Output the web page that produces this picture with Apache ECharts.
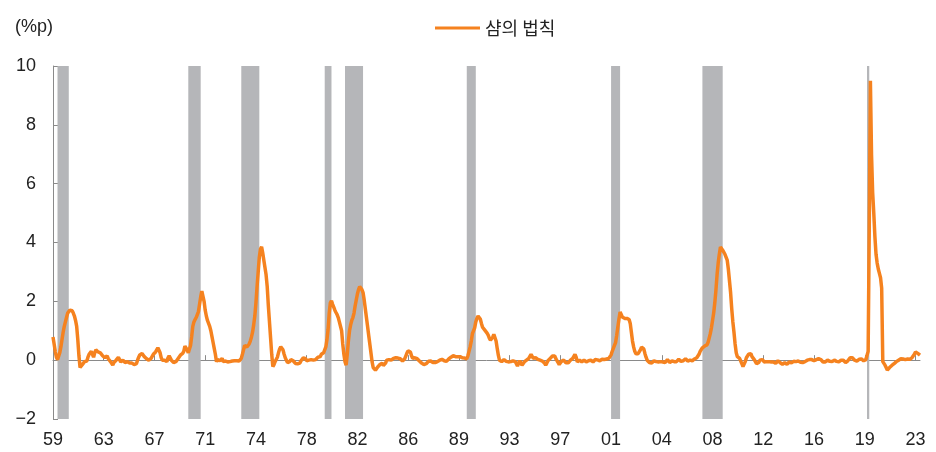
<!doctype html>
<html lang="ko">
<head>
<meta charset="UTF-8">
<script src="https://cdn.jsdelivr.net/npm/echarts@6/dist/echarts.min.js"></script>
<title>샴의 법칙</title>
<style>
  html, body { margin: 0; padding: 0; background: #fff; }
</style>
</head>
<body>
<div id="main" style="width: 936px; height: 452px"></div>
<script type="text/javascript">
// 월별 데이터, 1959년 12월부터
var startYear = 1959, startMonth = 12;
var seriesName = '샴의 법칙';
var tickLabels = ['59','63','67','71','74','78','82','86','89','93','97','01','04','08','12','16','19','23'];
var tickEvery = 45; // 라벨 간격(개월)

// 경기침체 구간 (음영)
var recessions = [
    ['1960-04','1961-02'], ['1969-12','1970-11'], ['1973-11','1975-03'],
    ['1980-01','1980-07'], ['1981-07','1982-11'], ['1990-07','1991-03'],
    ['2001-03','2001-11'], ['2007-12','2009-06'], ['2020-02','2020-04']
];

// 샴의 법칙 (%p)
var sahm = [
    0.79, // 1959.12
    0.55,0.3,0.1,0.02,0.05,0.25,0.45,0.7,0.95,1.15,1.3,1.45,          // 1960
    1.6,1.65,1.7,1.72,1.68,1.6,1.5,1.35,1.15,0.7,0.15,-0.25,          // 1961
    -0.25,-0.15,-0.1,-0.05,-0.08,-0.03,0.1,0.2,0.25,0.3,0.2,0.1,      // 1962
    0.25,0.35,0.33,0.28,0.3,0.25,0.2,0.15,0.1,0.08,0.12,0.15,         // 1963
    0.05,0.0,-0.05,-0.1,-0.17,-0.08,-0.12,0.0,0.05,0.1,0.02,-0.06,    // 1964
    -0.02,0.0,-0.05,-0.08,-0.1,-0.05,-0.08,-0.1,-0.07,-0.1,-0.12,-0.15, // 1965
    -0.17,-0.12,0.0,0.1,0.18,0.22,0.23,0.17,0.12,0.08,0.05,0.02,      // 1966
    0.0,0.02,0.06,0.12,0.2,0.23,0.28,0.35,0.42,0.45,0.25,0.08,        // 1967
    0.0,-0.02,0.0,-0.03,-0.05,0.08,0.15,0.1,0.0,-0.05,-0.08,-0.1,     // 1968
    -0.05,0.0,0.06,0.12,0.17,0.2,0.23,0.3,0.48,0.45,0.35,0.25,        // 1969
    0.3,0.5,0.8,1.15,1.3,1.38,1.45,1.55,1.65,1.9,2.15,2.35,           // 1970
    2.3,2.0,1.7,1.5,1.35,1.25,1.15,1.0,0.8,0.6,0.4,0.2,               // 1971
    -0.05,0.02,0.05,-0.02,0.03,0.06,-0.05,-0.11,-0.03,0.02,-0.06,-0.1, // 1972
    -0.05,0.0,-0.03,0.02,-0.02,-0.05,-0.02,0.02,-0.03,0.0,0.06,0.2,   // 1973
    0.35,0.5,0.52,0.45,0.48,0.55,0.65,0.78,0.95,1.2,1.5,1.95,         // 1974
    2.5,3.0,3.5,3.78,3.85,3.65,3.4,3.15,2.9,2.5,1.85,1.3,             // 1975
    0.75,0.2,-0.22,-0.15,-0.05,-0.05,0.1,0.25,0.38,0.45,0.5,0.35,     // 1976
    0.2,0.08,0.0,-0.08,-0.11,-0.05,0.02,0.06,-0.02,-0.08,-0.11,-0.08, // 1977
    -0.12,-0.17,-0.1,-0.02,0.02,0.08,0.11,0.05,-0.02,-0.05,0.0,-0.03, // 1978
    0.02,-0.02,0.0,0.04,0.02,0.06,0.1,0.08,0.12,0.2,0.18,0.25,        // 1979
    0.3,0.45,0.7,1.05,1.6,1.95,2.02,1.9,1.8,1.7,1.62,1.55,            // 1980
    1.45,1.3,1.3,1.0,0.55,0.2,-0.05,-0.17,0.2,0.65,1.0,1.2,           // 1981
    1.35,1.45,1.6,1.85,2.05,2.25,2.4,2.5,2.48,2.4,2.3,2.05,           // 1982
    1.75,1.45,1.15,0.85,0.55,0.25,-0.05,-0.25,-0.3,-0.34,-0.3,-0.23,  // 1983
    -0.2,-0.15,-0.1,-0.1,-0.18,-0.22,-0.1,0.0,0.06,0.02,-0.02,0.0,    // 1984
    0.03,0.06,0.1,0.08,0.1,0.07,0.05,0.05,0.0,-0.03,-0.04,0.05,       // 1985
    0.15,0.25,0.32,0.34,0.28,0.15,0.06,0.04,0.08,0.1,0.05,0.0,        // 1986
    -0.03,-0.06,-0.1,-0.12,-0.15,-0.17,-0.12,-0.08,-0.04,0.0,-0.03,-0.06, // 1987
    -0.08,-0.1,-0.08,-0.1,-0.05,-0.02,0.0,0.03,0.03,0.0,-0.02,-0.04,  // 1988
    -0.04,0.0,0.04,0.08,0.1,0.12,0.15,0.17,0.12,0.17,0.12,0.1,        // 1989
    0.12,0.1,0.08,0.06,0.07,0.06,0.05,0.15,0.3,0.45,0.65,0.9,         // 1990
    0.9,1.1,1.3,1.42,1.5,1.53,1.4,1.25,1.12,1.06,1.02,1.0,            // 1991
    0.92,0.85,0.75,0.68,0.65,0.78,0.88,0.85,0.65,0.4,0.17,0.0,        // 1992
    -0.03,-0.05,0.0,0.02,0.0,-0.04,-0.09,-0.06,-0.02,-0.05,-0.06,-0.02, // 1993
    0.0,-0.05,-0.12,-0.2,-0.1,-0.02,-0.08,-0.17,-0.12,-0.06,-0.02,0.0, // 1994
    0.0,0.06,0.12,0.2,0.15,0.06,0.05,0.09,0.07,0.03,0.0,0.0,          // 1995
    0.0,-0.03,-0.06,-0.1,-0.17,-0.1,-0.02,0.03,0.06,0.1,0.14,0.08,    // 1996
    0.14,0.05,0.0,-0.08,-0.15,-0.1,-0.04,0.0,0.0,-0.05,-0.09,-0.03,   // 1997
    -0.09,-0.04,0.0,0.03,0.06,0.1,0.2,0.1,-0.06,-0.04,0.0,-0.03,      // 1998
    -0.06,-0.04,0.0,-0.03,-0.06,-0.04,-0.02,-0.01,0.0,-0.03,-0.06,-0.03, // 1999
    0.02,0.0,0.01,0.0,-0.02,0.0,0.03,0.04,0.02,0.05,0.04,0.06,        // 2000
    0.06,0.1,0.18,0.3,0.4,0.5,0.6,0.85,1.13,1.4,1.64,1.55,            // 2001
    1.47,1.45,1.42,1.4,1.42,1.42,1.38,1.25,0.95,0.65,0.45,0.3,        // 2002
    0.22,0.2,0.22,0.28,0.35,0.44,0.48,0.38,0.23,0.1,0.0,-0.05,        // 2003
    -0.08,-0.05,-0.1,-0.06,-0.02,-0.08,-0.05,0.0,-0.06,-0.1,-0.05,-0.02, // 2004
    -0.06,-0.03,-0.08,-0.05,0.02,-0.04,-0.08,-0.06,-0.02,0.0,-0.05,-0.08, // 2005
    -0.05,-0.02,0.03,0.0,-0.04,-0.06,-0.02,0.02,0.05,0.0,-0.03,0.02,  // 2006
    0.0,0.02,-0.02,0.0,0.04,0.06,0.08,0.11,0.2,0.3,0.36,0.42,         // 2007
    0.45,0.48,0.5,0.52,0.6,0.75,0.9,1.1,1.35,1.6,1.95,2.38,           // 2008
    2.9,3.3,3.6,3.85,3.8,3.74,3.7,3.6,3.55,3.4,3.1,2.7,               // 2009
    2.3,1.75,1.3,0.95,0.55,0.25,0.12,0.06,0.06,0.0,-0.12,-0.22,       // 2010
    -0.2,-0.05,0.08,0.12,0.2,0.25,0.22,0.12,0.06,0.02,-0.05,-0.12,    // 2011
    -0.17,-0.08,0.0,0.05,0.02,-0.04,-0.06,-0.02,-0.05,-0.08,-0.05,-0.03, // 2012
    -0.06,-0.04,-0.06,-0.08,-0.11,-0.06,-0.02,-0.05,-0.09,-0.12,-0.14,-0.1, // 2013
    -0.09,-0.12,-0.14,-0.1,-0.06,-0.07,-0.09,-0.06,-0.04,-0.03,-0.05,-0.07, // 2014
    -0.03,-0.05,-0.07,-0.09,-0.08,-0.09,-0.05,-0.02,0.0,0.01,0.02,0.0, // 2015
    0.02,0.0,-0.02,-0.01,0.02,0.03,0.05,0.06,0.02,-0.03,-0.06,-0.04,  // 2016
    -0.06,-0.03,0.0,0.0,-0.04,-0.08,-0.05,-0.02,0.0,-0.02,-0.04,-0.06, // 2017
    -0.06,-0.03,0.0,0.03,0.0,-0.04,-0.08,-0.05,-0.02,0.02,0.08,0.14,  // 2018
    0.08,0.02,0.0,-0.02,-0.03,0.0,0.03,0.06,0.04,0.0,-0.02,0.0,       // 2019
    0.02,0.0,0.3,4.5,9.5,7.0,5.7,5.0,4.2,3.6,3.3,3.1,                 // 2020
    2.95,2.8,2.45,-0.05,-0.1,-0.17,-0.25,-0.34,-0.3,-0.25,-0.22,-0.18, // 2021
    -0.15,-0.12,-0.08,-0.05,-0.02,0.0,0.02,0.05,0.06,0.04,0.0,0.02,   // 2022
    0.05,0.04,0.0,0.03,0.06,0.09,0.12,0.2,0.28,0.25,0.23,0.2,         // 2023
    0.17 // 2024.01
];

// 카테고리(연-월) 만들기
var months = [];
(function () {
    var y = startYear, m = startMonth;
    for (var i = 0; i < sahm.length; i++) {
        months.push(y + '-' + (m < 10 ? '0' + m : m));
        m++;
        if (m > 12) { m = 1; y++; }
    }
})();

var fontFam = 'Liberation Sans, Noto Sans CJK KR, sans-serif';
var axisColor = '#8a8a8a';
var mychart = echarts.init(document.getElementById('main'));
var option = {
    animation: false,
    title: {
        text: '(%p)',
        left: 10,
        top: 13,
        textStyle: { fontSize: 18, fontWeight: 'normal', color: '#222', fontFamily: fontFam }
    },
    legend: {
        data: [seriesName],
        left: 430,
        top: 14,
        icon: 'rect',
        itemWidth: 45,
        itemHeight: 3,
        itemGap: 5,
        textStyle: { fontSize: 18, color: '#222', fontFamily: 'Noto Sans CJK KR' }
    },
    grid: { left: 53, right: 16, top: 66, bottom: 33, containLabel: false, outerBoundsMode: 'none' },
    xAxis: [{
        // 아래쪽 연도 라벨
        type: 'category',
        position: 'bottom',
        data: months,
        boundaryGap: false,
        axisLine: { show: false, onZero: false },
        axisTick: { show: false },
        axisLabel: {
            interval: tickEvery - 1,
            margin: 12,
            fontSize: 18,
            color: '#222',
            fontFamily: fontFam,
            formatter: function (v, i) { return tickLabels[Math.round(i / tickEvery)] || ''; }
        },
        splitLine: { show: false }
    }, {
        // 0 위치 축선
        type: 'category',
        position: 'bottom',
        data: months,
        boundaryGap: false,
        axisLine: { show: true, onZero: true, lineStyle: { color: axisColor, width: 1 } },
        axisTick: { show: true, inside: true, length: 5, interval: tickEvery - 1, lineStyle: { color: axisColor } },
        axisLabel: { show: false },
        splitLine: { show: false }
    }],
    yAxis: {
        type: 'value',
        min: -2,
        max: 10,
        interval: 2,
        axisLine: { show: true, lineStyle: { color: axisColor, width: 1 } },
        axisTick: { show: true, inside: true, length: 5, lineStyle: { color: axisColor } },
        axisLabel: {
            fontSize: 18, color: '#222', margin: 17, fontFamily: fontFam,
            formatter: function (v) { return String(v).replace('-', '\u2212'); }
        },
        splitLine: { show: false }
    },
    series: [{
        name: seriesName,
        type: 'line',
        xAxisIndex: 0,
        data: sahm,
        showSymbol: false,
        smooth: false,
        lineStyle: { color: '#f5821f', width: 3.5 },
        itemStyle: { color: '#f5821f' },
        markArea: {
            silent: true,
            itemStyle: { color: '#b5b6b9' },
            data: recessions.map(function (r) { return [{ xAxis: r[0] }, { xAxis: r[1] }]; })
        }
    }]
};
mychart.setOption(option);
</script>
</body>
</html>
